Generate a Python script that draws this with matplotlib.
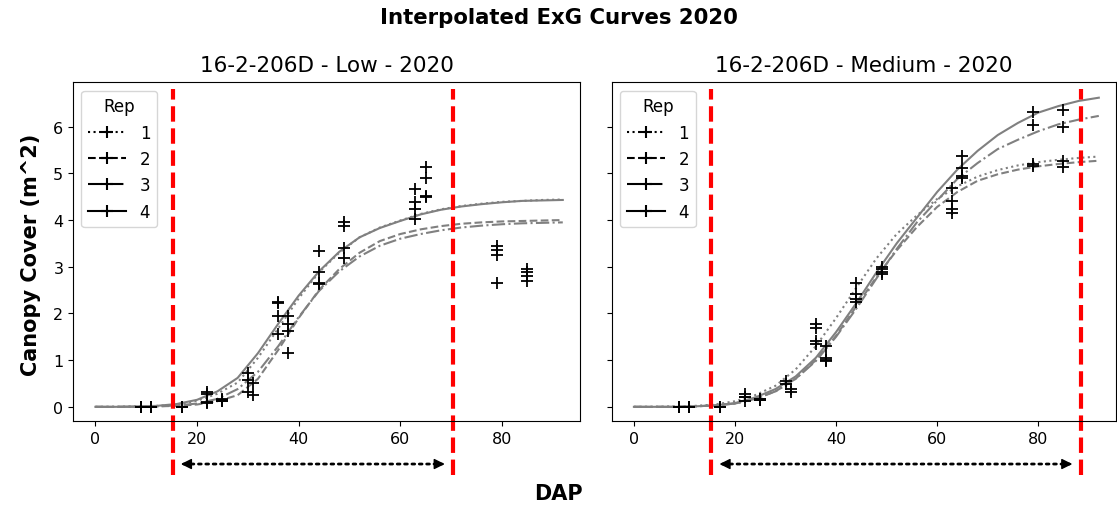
import numpy as np
import matplotlib
matplotlib.use('Agg')
import matplotlib.pyplot as plt
from matplotlib.lines import Line2D

# ---- data ----
REPS = ['1', '2', '3', '4']
REP_STYLES = [':', '--', '-.', '-']

curve_dap = [0, 4, 8, 12, 16, 20, 24, 28, 32, 36, 40, 44, 48, 52, 56, 60, 64, 68, 72, 76, 80, 84, 88, 92]

# Low treatment, fitted curves per rep
low_rep1 = [0, 0, 0.01, 0.02, 0.05, 0.13, 0.28, 0.52, 1.05, 1.68, 2.32, 2.88, 3.3, 3.63, 3.84, 3.99, 4.13, 4.23, 4.3, 4.35, 4.39, 4.41, 4.43, 4.44]
low_rep2 = [0, 0, 0, 0.01, 0.02, 0.05, 0.12, 0.25, 0.6, 1.22, 1.9, 2.5, 2.95, 3.3, 3.55, 3.7, 3.8, 3.87, 3.92, 3.95, 3.97, 3.98, 3.99, 4.0]
low_rep3 = [0, 0, 0, 0.01, 0.03, 0.07, 0.17, 0.38, 0.75, 1.3, 1.92, 2.48, 2.9, 3.22, 3.45, 3.6, 3.7, 3.78, 3.84, 3.88, 3.91, 3.93, 3.94, 3.95]
low_rep4 = [0, 0, 0.01, 0.02, 0.06, 0.15, 0.33, 0.62, 1.15, 1.78, 2.38, 2.9, 3.32, 3.63, 3.83, 3.98, 4.12, 4.22, 4.29, 4.34, 4.38, 4.41, 4.42, 4.43]

# Medium treatment, fitted curves per rep
med_rep1 = [0, 0, 0.01, 0.02, 0.05, 0.12, 0.25, 0.45, 0.8, 1.3, 1.9, 2.55, 3.18, 3.7, 4.1, 4.45, 4.72, 4.93, 5.07, 5.17, 5.24, 5.29, 5.33, 5.36]
med_rep2 = [0, 0, 0, 0.01, 0.03, 0.07, 0.17, 0.33, 0.6, 1.0, 1.52, 2.15, 2.78, 3.35, 3.85, 4.28, 4.6, 4.84, 4.98, 5.08, 5.15, 5.2, 5.24, 5.27]
med_rep3 = [0, 0, 0, 0.01, 0.03, 0.07, 0.17, 0.33, 0.6, 0.98, 1.5, 2.1, 2.75, 3.38, 3.95, 4.42, 4.88, 5.22, 5.52, 5.72, 5.9, 6.05, 6.15, 6.23]
med_rep4 = [0, 0, 0, 0.01, 0.03, 0.08, 0.2, 0.38, 0.65, 1.05, 1.6, 2.22, 2.88, 3.5, 4.05, 4.6, 5.08, 5.48, 5.82, 6.08, 6.3, 6.44, 6.55, 6.62]

# observed points (all reps)
low_dap = [9, 9, 9, 9, 11, 11, 11, 11, 17, 17, 17, 17,
           22, 22, 22, 22, 25, 25, 25, 25, 30, 30, 30, 31, 31,
           36, 36, 36, 36, 38, 38, 38, 38, 44, 44, 44, 44,
           49, 49, 49, 49, 63, 63, 63, 63, 65, 65, 65, 65,
           79, 79, 79, 79, 85, 85, 85, 85]
low_cover = [0, 0, 0, 0, 0, 0, 0, 0, 0, 0, 0, 0,
             0.31, 0.27, 0.1, 0.08, 0.16, 0.14, 0.12, 0.13, 0.72, 0.58, 0.31, 0.52, 0.25,
             2.25, 2.22, 1.95, 1.56, 1.95, 1.77, 1.63, 1.16, 3.34, 2.89, 2.63, 2.65,
             3.95, 3.88, 3.41, 3.18, 4.66, 4.38, 4.24, 4.02, 5.13, 4.91, 4.52, 4.49,
             3.45, 3.36, 3.25, 2.65, 2.95, 2.88, 2.81, 2.70]

med_dap = [9, 9, 9, 9, 11, 11, 11, 11, 17, 17, 17, 17,
           22, 22, 22, 22, 25, 25, 25, 25, 30, 30, 31, 31,
           36, 36, 36, 36, 38, 38, 38, 38, 44, 44, 44, 44,
           49, 49, 49, 49, 63, 63, 63, 63, 65, 65, 65, 65,
           79, 79, 79, 79, 85, 85, 85, 85]
med_cover = [0, 0, 0, 0, 0, 0, 0, 0, 0, 0, 0, 0,
             0.27, 0.22, 0.2, 0.13, 0.16, 0.14, 0.15, 0.17, 0.56, 0.49, 0.38, 0.31,
             1.77, 1.68, 1.41, 1.34, 1.31, 1.04, 1.01, 0.99, 2.66, 2.41, 2.31, 2.25,
             3.0, 2.95, 2.89, 2.84, 4.68, 4.41, 4.24, 4.16, 5.38, 5.11, 4.95, 4.91,
             6.31, 6.04, 5.2, 5.16, 6.36, 5.99, 5.27, 5.13]

# window bounds (red lines)
low_window = [15.2, 70.4]
med_window = [15.3, 88.4]

panels = [
    ('16-2-206D - Low - 2020', [low_rep1, low_rep2, low_rep3, low_rep4], low_dap, low_cover, low_window),
    ('16-2-206D - Medium - 2020', [med_rep1, med_rep2, med_rep3, med_rep4], med_dap, med_cover, med_window),
]

fig = plt.figure(figsize=(11.17, 5.06), dpi=100)
ax1 = fig.add_axes([0.0654, 0.1654, 0.4539, 0.670])
ax2 = fig.add_axes([0.5476, 0.1654, 0.4515, 0.670], sharey=ax1)
axes = [ax1, ax2]

ARROW_Y = -0.126  # axes fraction, below the x tick labels
for ax, (title, curves, dap, cover, window) in zip(axes, panels):
    for vals, ls in zip(curves, REP_STYLES):
        ax.plot(curve_dap, vals, color='gray', linestyle=ls, linewidth=1.5)
    ax.plot(dap, cover, linestyle='none', marker='+', color='black', markersize=8, markeredgewidth=1.3)
    for xv in window:
        ax.axvline(xv, ymin=-0.158, ymax=0.98, color='red', linestyle='--', linewidth=3, clip_on=False)

    # dotted span line + solid heads
    crd = dict(xycoords=('data', 'axes fraction'), textcoords=('data', 'axes fraction'))
    ax.annotate('', xy=(window[1], ARROW_Y), xytext=(window[0], ARROW_Y),
                arrowprops=dict(arrowstyle='-', linestyle=':', linewidth=2, color='black',
                                shrinkA=8, shrinkB=8), **crd)
    ax.annotate('', xy=(window[1], ARROW_Y), xytext=(window[1] - 3, ARROW_Y),
                arrowprops=dict(arrowstyle='-|>', linewidth=1, color='black',
                                shrinkA=0, shrinkB=6, mutation_scale=16), **crd)
    ax.annotate('', xy=(window[0], ARROW_Y), xytext=(window[0] + 3, ARROW_Y),
                arrowprops=dict(arrowstyle='-|>', linewidth=1, color='black',
                                shrinkA=0, shrinkB=6, mutation_scale=16), **crd)

    ax.set_title(title, fontsize=15.5, pad=8)
    ax.set_xlim(-4.4, 95.4)
    ax.set_xticks([0, 20, 40, 60, 80])
    ax.tick_params(labelsize=11.5)
    handles = [Line2D([], [], color='black', linestyle=ls, marker='+', markersize=9, markeredgewidth=1.5, linewidth=1.5)
               for ls in REP_STYLES]
    ax.legend(handles, REPS, title='Rep', loc='upper left', fontsize=12, title_fontsize=12, handlelength=2.3)

ax1.set_ylim(-0.31, 6.95)
ax1.set_yticks([0, 1, 2, 3, 4, 5, 6])
ax2.tick_params(labelleft=False)

fig.suptitle('Interpolated ExG Curves 2020', fontsize=15.3, fontweight='bold', y=0.964, va='center')
fig.text(0.5, 0.024, 'DAP', fontsize=15, fontweight='bold', ha='center', va='center')
fig.text(0.028, 0.496, 'Canopy Cover (m^2)', fontsize=15, fontweight='bold', ha='center', va='center', rotation=90)

plt.savefig('out.png', dpi=100)
